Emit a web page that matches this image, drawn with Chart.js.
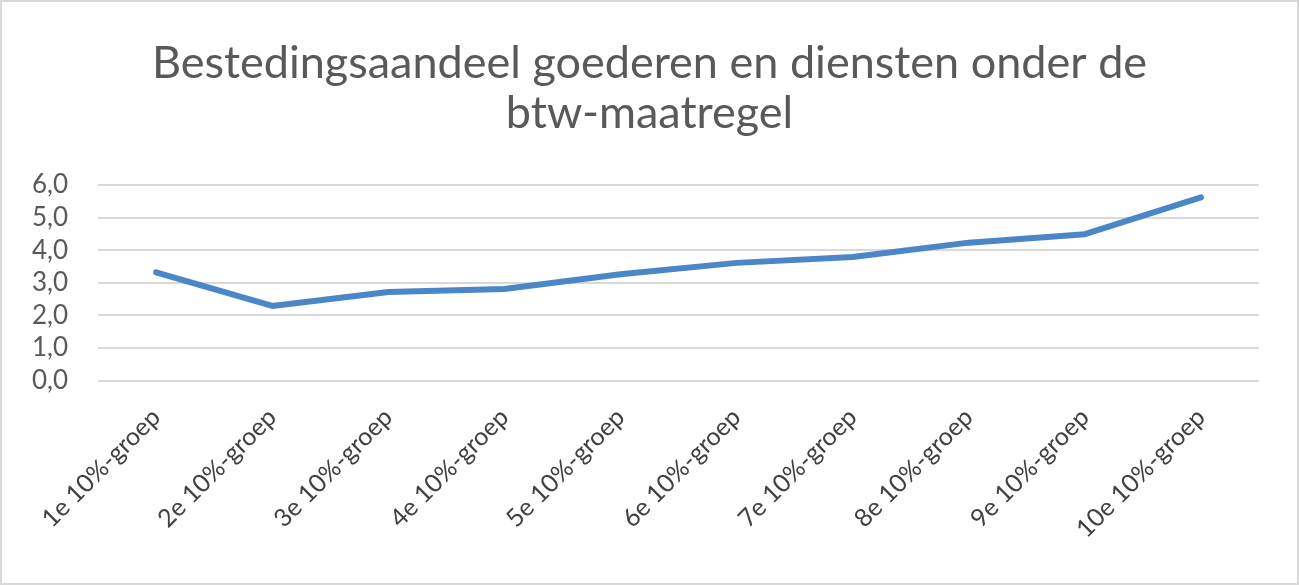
<!DOCTYPE html>
<html>
<head>
<meta charset="utf-8">
<script src="https://cdn.jsdelivr.net/npm/chart.js@4"></script>
<style>
  html, body { margin: 0; padding: 0; background: #fff; }
  #wrap { position: relative; width: 1295px; height: 581px; border: 2px solid #d9d9d9; }
</style>
</head>
<body>
<div id="wrap"><canvas id="chart"></canvas></div>
<script>
// Bestedingsaandeel per inkomensgroep
const categories = ['1e 10%-groep', '2e 10%-groep', '3e 10%-groep', '4e 10%-groep', '5e 10%-groep',
  '6e 10%-groep', '7e 10%-groep', '8e 10%-groep', '9e 10%-groep', '10e 10%-groep'];
const shares = [3.32, 2.29, 2.72, 2.81, 3.26, 3.61, 3.79, 4.23, 4.49, 5.62];
const yTicks = [0, 1, 2, 3, 4, 5, 6];
const titleLines = ['Bestedingsaandeel goederen en diensten onder de', 'btw-maatregel'];

const FONT = 'Lato, "Open Sans", sans-serif';

// keep the title centred on the whole canvas, not on the padded box
const centerTitle = {
  id: 'centerTitle',
  afterLayout(chart) {
    if (chart.titleBlock) {
      chart.titleBlock.left = 0;
      chart.titleBlock.right = chart.width;
    }
  }
};

new Chart(document.getElementById('chart'), {
  type: 'line',
  data: {
    labels: categories,
    datasets: [{
      data: shares,
      borderColor: '#4a86c8',
      borderWidth: 6,
      pointRadius: 0,
      tension: 0,
      borderCapStyle: 'round',
      borderJoinStyle: 'round',
      fill: false
    }]
  },
  plugins: [centerTitle],
  options: {
    responsive: true,
    maintainAspectRatio: false,
    animation: false,
    layout: { padding: { top: 37, left: 0, right: 38, bottom: 17 } },
    plugins: {
      legend: { display: false },
      tooltip: { enabled: false },
      title: {
        display: true,
        text: titleLines,
        color: '#595959',
        font: { family: FONT, size: 45, weight: 'normal', lineHeight: 1.11 },
        padding: { top: 0, bottom: 46 }
      }
    },
    scales: {
      x: {
        offset: true,
        grid: { display: false, drawTicks: false },
        border: { display: false },
        ticks: {
          color: '#404040',
          font: { family: FONT, size: 25 },
          minRotation: 45,
          maxRotation: 45,
          autoSkip: false,
          padding: 22
        }
      },
      y: {
        min: 0,
        max: 6,
        afterBuildTicks: axis => { axis.ticks = yTicks.map(v => ({ value: v })); },
        grid: { color: '#d9d9d9', lineWidth: 2, drawTicks: false },
        border: { display: false },
        ticks: {
          color: '#595959',
          font: { family: FONT, size: 26 },
          autoSkip: false,
          padding: 30,
          callback: v => v.toFixed(1).replace('.', ',')
        }
      }
    }
  }
});
</script>
</body>
</html>
